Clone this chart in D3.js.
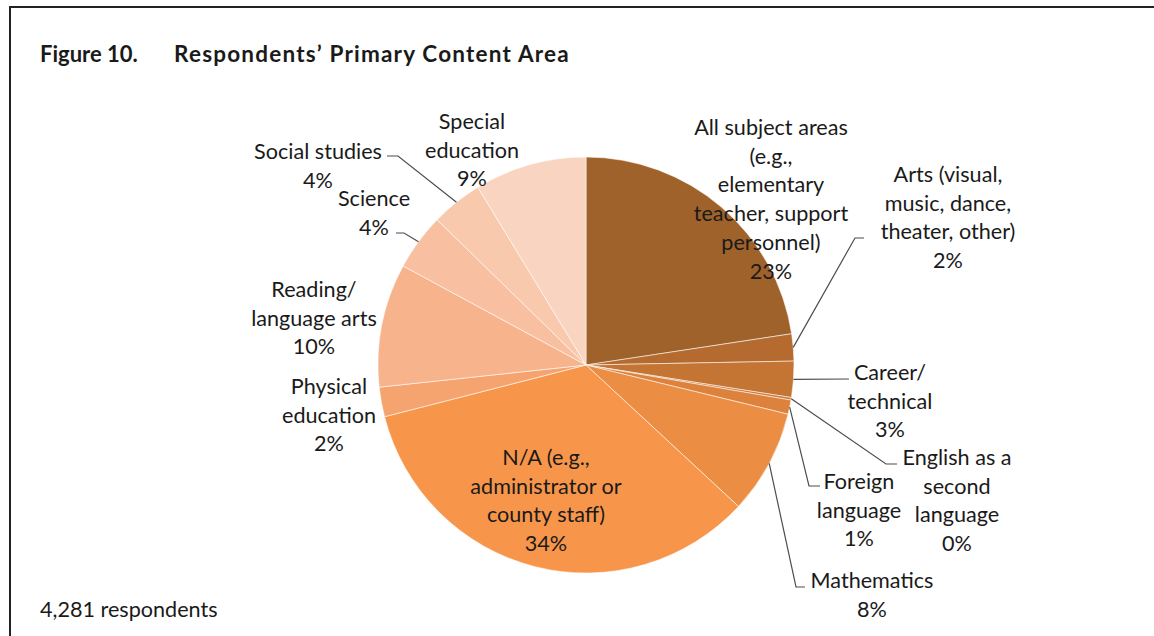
<!DOCTYPE html>
<html>
<head>
<meta charset="utf-8">
<script src="https://cdn.jsdelivr.net/npm/d3@7"></script>
<style>
  html, body { margin: 0; padding: 0; background: #fff; }
  svg { display: block; }
  text { font-family: Lato, "Noto Sans", sans-serif; fill: #1a1a1a; }
</style>
</head>
<body>
<svg id="chart" width="1154" height="636"></svg>
<script>
// Primary content area of respondents (share of 4,281 respondents, %)
const categories = [
  "All subject areas\n(e.g.,\nelementary\nteacher, support\npersonnel)",
  "Arts (visual,\nmusic, dance,\ntheater, other)",
  "Career/\ntechnical",
  "English as a\nsecond\nlanguage",
  "Foreign\nlanguage",
  "Mathematics",
  "N/A (e.g.,\nadministrator or\ncounty staff)",
  "Physical\neducation",
  "Reading/\nlanguage arts",
  "Science",
  "Social studies",
  "Special\neducation"
];
const shares = [22.6, 2.1, 2.8, 0.2, 1.1, 8.1, 34.1, 2.3, 9.6, 4.4, 4.0, 8.7];
const sliceColors = [
  "#a0622b", "#b56b2f", "#c47433", "#cf7a37", "#dd823c", "#ec8d44",
  "#f7964a", "#f6a46f", "#f7b38c", "#f8c0a0", "#f9c9ae", "#f9d4c1"
];
const titleNumber = "Figure 10.";
const titleText = "Respondents\u2019 Primary Content Area";
const footnote = "4,281 respondents";

// Label placement: text anchor (centre x, first-line y) and leader elbow points
const labelLayout = [
  { x: 771, y: 127 },
  { x: 948, y: 174, leader: [[855, 238], [864, 238]] },
  { x: 890, y: 372, leader: [[849, 379]] },
  { x: 957, y: 457, leader: [[886, 464], [897, 464]] },
  { x: 859, y: 481, leader: [[809, 486], [820, 486]] },
  { x: 872, y: 580, leader: [[796, 587], [805, 587]] },
  { x: 546, y: 457 },
  { x: 329, y: 386 },
  { x: 314, y: 289 },
  { x: 374, y: 198, leader: [[404, 233], [396, 233]] },
  { x: 318, y: 151, leader: [[398, 156], [387, 156]] },
  { x: 472, y: 121 }
];

const W = 1154, H = 636;
const cx = 586, cy = 365, R = 208;
const lineH = 28.7;
const labelSize = 21.6;

const svg = d3.select("#chart");

// Frame
svg.append("path")
  .attr("d", `M10,${H} L10,7 L${W},7`)
  .attr("fill", "none").attr("stroke", "#222").attr("stroke-width", 2);

// Title
svg.append("text").attr("x", 40).attr("y", 62)
  .attr("font-weight", "bold").attr("font-size", 22).text(titleNumber);
svg.append("text").attr("x", 174).attr("y", 62)
  .attr("font-weight", "bold").attr("font-size", 22.5)
  .attr("letter-spacing", 1.2).text(titleText);

const data = categories.map((c, i) => ({ name: c, value: shares[i], color: sliceColors[i], layout: labelLayout[i] }));
const total = d3.sum(shares);
const pct = d3.format(".0%");

const pie = d3.pie().sort(null).value(d => d.value).startAngle(0).endAngle(2 * Math.PI);
const arcs = pie(data);
const arc = d3.arc().innerRadius(0).outerRadius(R);

const g = svg.append("g").attr("transform", `translate(${cx},${cy})`);
g.selectAll("path.slice").data(arcs).join("path")
  .attr("class", "slice")
  .attr("d", arc)
  .attr("fill", d => d.data.color)
  .attr("stroke", "rgba(255,255,255,0.55)")
  .attr("stroke-width", 1);

// Leader lines from the slice edge at mid-angle
const edgePoint = d => {
  const a = (d.startAngle + d.endAngle) / 2;
  return [cx + R * Math.sin(a), cy - R * Math.cos(a)];
};
svg.selectAll("path.leader").data(arcs.filter(d => d.data.layout.leader)).join("path")
  .attr("class", "leader")
  .attr("d", d => d3.line()([edgePoint(d), ...d.data.layout.leader]))
  .attr("fill", "none").attr("stroke", "#4d4d4d").attr("stroke-width", 1.2);

// Labels
const labels = svg.selectAll("text.lbl").data(arcs).join("text")
  .attr("class", "lbl")
  .attr("text-anchor", "middle")
  .attr("font-size", labelSize)
  .attr("dominant-baseline", "central");
labels.each(function(d) {
  const lines = d.data.name.split("\n").concat(pct(d.data.value / total));
  const t = d3.select(this);
  lines.forEach((ln, i) => {
    t.append("tspan")
      .attr("x", d.data.layout.x)
      .attr("y", d.data.layout.y + i * lineH)
      .text(ln);
  });
});

// Footnote
svg.append("text").attr("x", 40).attr("y", 609)
  .attr("dominant-baseline", "central").attr("font-size", labelSize).text(footnote);
</script>
</body>
</html>
